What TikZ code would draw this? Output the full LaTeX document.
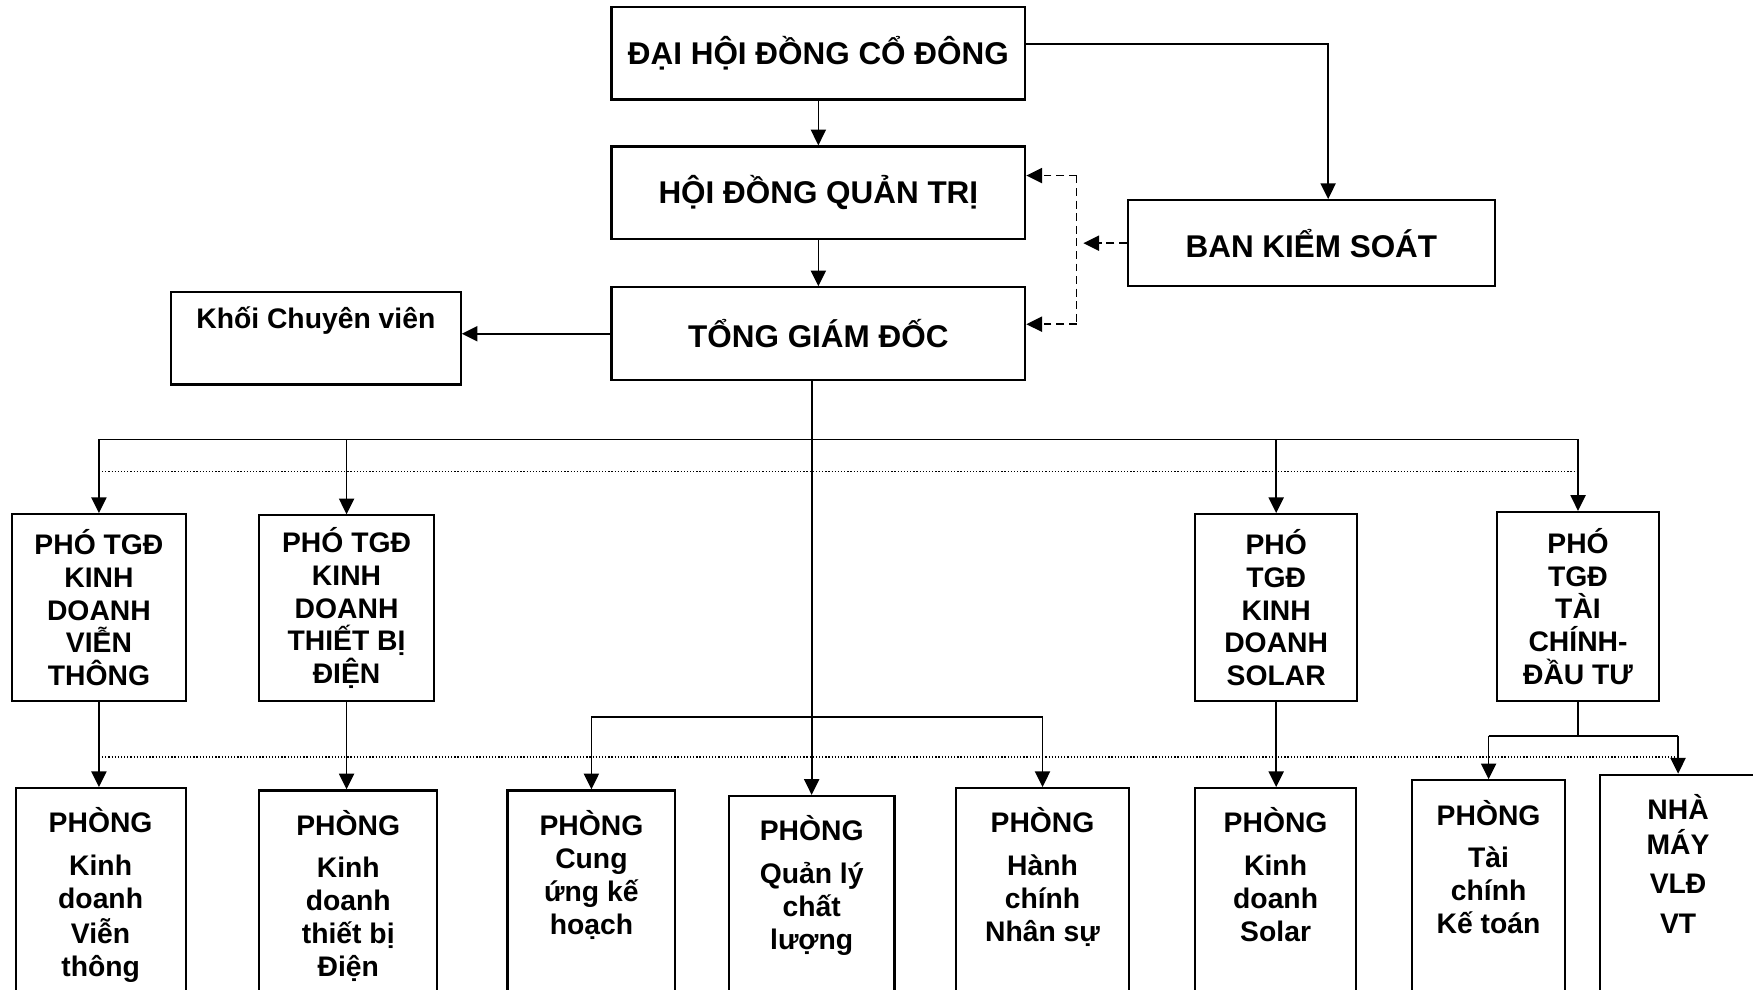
\documentclass[tikz,border=0pt]{standalone}
\usepackage{fontspec}
\setmainfont{Liberation Sans}
\usetikzlibrary{arrows.meta,positioning,calc}
\newcommand{\toplines}[1]{\begin{tabular}[t]{@{}c@{}}#1\end{tabular}}

\begin{document}
\begin{tikzpicture}[
  x=0.0125cm, y=-0.0125cm,
  board/.style={draw, line width=0.7pt, align=center,
    font=\bfseries\fontsize{10}{12}\selectfont,
    minimum width=4.625cm, minimum height=1.0375cm},
  vice/.style={draw, line width=0.7pt, align=center, inner sep=1pt,
    font=\bfseries\fontsize{9}{10.4}\selectfont, minimum height=2.0875cm},
  dept/.style={draw, line width=0.7pt, anchor=north,
    font=\bfseries\fontsize{9}{10.5}\selectfont,
    text height=6.5pt, text depth=70pt, inner xsep=1pt, inner ysep=7.7pt},
  conn/.style={line width=0.55pt},
  arr/.style={conn, -{Triangle[length=5pt, width=4.8pt]}},
  dasharr/.style={arr, dash pattern=on 2.5pt off 1.5pt},
  dotline/.style={line width=0.4pt, dash pattern=on 0.4pt off 0.6pt}
]
\useasboundingbox (0,0) rectangle (1568,885);

% top levels
\node[board] (dhdcd) at (732,47.5) {ĐẠI HỘI ĐỒNG CỔ ĐÔNG};
\node[board] (hdqt) at (732,172.5) {HỘI ĐỒNG QUẢN TRỊ};
\node[board] (tgd) at (732,298.5) {TỔNG GIÁM ĐỐC};
\node[board, minimum width=4.1cm, minimum height=0.9625cm] (bks) at (1173,217.5) {BAN KIỂM SOÁT};
\node[dept, text depth=12.5pt, inner ysep=5.25pt, minimum width=3.2375cm] (khoi) at (282.5,260) {Khối Chuyên viên};

% deputies
\node[vice, minimum width=1.9375cm] (p1) at (88.5,543.5) {PHÓ TGĐ\\KINH\\DOANH\\VIỄN\\THÔNG};
\node[vice, minimum width=1.95cm, minimum height=2.075cm] (p2) at (310,544) {PHÓ TGĐ\\KINH\\DOANH\\THIẾT BỊ\\ĐIỆN};
\node[vice, minimum width=1.8125cm] (p3) at (1141.5,543.5) {PHÓ\\TGĐ\\KINH\\DOANH\\SOLAR};
\node[vice, minimum width=1.8125cm, minimum height=2.1125cm] (p4) at (1411.5,542.5) {PHÓ\\TGĐ\\TÀI\\CHÍNH-\\ĐẦU TƯ};

% departments
\node[dept, minimum width=1.9cm] (b1) at (90,704) {\toplines{PHÒNG\\[3pt]Kinh\\doanh\\Viễn\\thông}};
\node[dept, minimum width=1.9875cm] (b2) at (311.5,706) {\toplines{PHÒNG\\[3pt]Kinh\\doanh\\thiết bị\\Điện}};
\node[dept, minimum width=1.875cm] (b3) at (529,706) {\toplines{PHÒNG\\Cung\\ứng kế\\hoạch}};
\node[dept, minimum width=1.85cm] (b4) at (726,711) {\toplines{PHÒNG\\[3pt]Quản lý\\chất\\lượng}};
\node[dept, minimum width=1.9375cm] (b5) at (932.5,704) {\toplines{PHÒNG\\[3pt]Hành\\chính\\Nhân sự}};
\node[dept, minimum width=1.8cm] (b6) at (1141,704) {\toplines{PHÒNG\\[3pt]Kinh\\doanh\\Solar}};
\node[dept, minimum width=1.7125cm] (b7) at (1331.5,697) {\toplines{PHÒNG\\[3pt]Tài\\chính\\Kế toán}};
\node[dept, minimum width=1.75cm] (b8) at (1501,692) {\toplines{NHÀ\\MÁY\\[2pt]VLĐ\\[2pt]VT}};

\coordinate (busA) at (0,393);
\coordinate (busB) at (0,641);
\coordinate (busC) at (0,658);
\coordinate (dotA) at (0,422);
\coordinate (dotB) at (0,677);
\coordinate (kstop) at (963,157);
\coordinate (ksbot) at (963,290);
\coordinate (ksin) at (969,217.5);

% upper links
\draw[arr] ([yshift=0.106cm]dhdcd.east) -| ([xshift=0.1875cm]bks.north);
\draw[arr] (dhdcd) -- (hdqt);
\draw[arr] (hdqt) -- (tgd);
\draw[arr] (tgd.west) -- (tgd.west -| khoi.east);
\draw[dasharr] (bks.west) -- (ksin);
\draw[conn, dash pattern=on 2.5pt off 1.5pt] (kstop) -- (ksbot);
\draw[dasharr] (kstop) -- (kstop -| hdqt.east);
\draw[dasharr] (ksbot) -- (ksbot -| tgd.east);

% buses
\draw[dotline] (p1.north |- dotA) -- (p4.north |- dotA);
\draw[dotline] (p1.south |- dotB) -- (b8.north |- dotB);
\draw[conn] (p1.north |- busA) -- (p4.north |- busA);
\foreach \p in {p1,p2,p3,p4}
  \draw[arr] (\p.north |- busA) -- (\p.north);
\draw[arr] (tgd.south -| b4.north) -- (b4.north);
\draw[conn] (b3.north |- busB) -- (b5.north |- busB);
\foreach \b in {b3,b5}
  \draw[arr] (\b.north |- busB) -- (\b.north);
\draw[arr] (p1.south) -- (p1.south |- b1.north);
\draw[arr] (p2.south) -- (p2.south |- b2.north);
\draw[arr] (p3.south) -- (p3.south |- b6.north);
\draw[conn] (p4.south) -- (p4.south |- busC);
\draw[conn] (b7.north |- busC) -- (b8.north |- busC);
\foreach \b in {b7,b8}
  \draw[arr] (\b.north |- busC) -- (\b.north);
\end{tikzpicture}
\end{document}
